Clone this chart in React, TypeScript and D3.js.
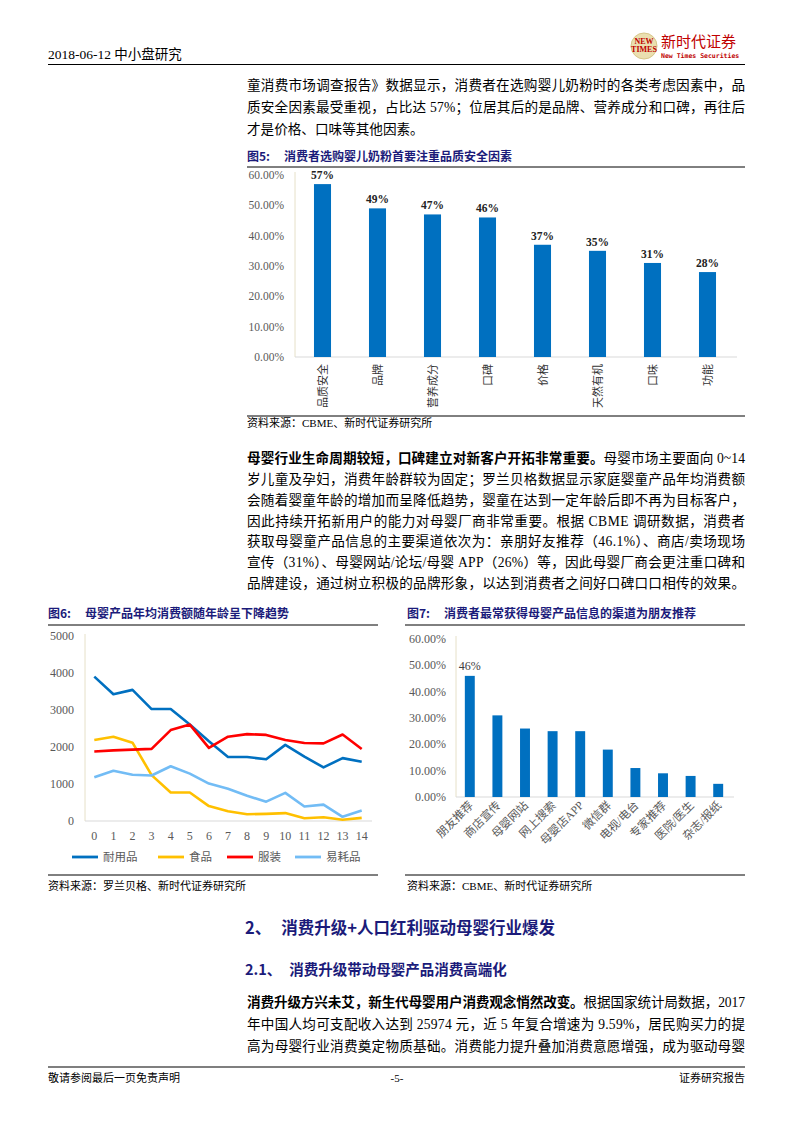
import React from "react";
import * as d3 from "d3";

// fig 5
const factorCats = ["品质安全", "品牌", "营养成分", "口碑", "价格", "天然有机", "口味", "功能"];
const factorVals = [0.57, 0.49, 0.47, 0.46, 0.37, 0.35, 0.31, 0.28];
const pctTicks = [0, 0.1, 0.2, 0.3, 0.4, 0.5, 0.6];

// fig 6
const ages = [0, 1, 2, 3, 4, 5, 6, 7, 8, 9, 10, 11, 12, 13, 14];
const durable = [3900, 3420, 3540, 3020, 3020, 2600, 2150, 1720, 1720, 1660, 2050, 1730, 1440, 1690, 1590];
const food = [2180, 2270, 2110, 1230, 760, 760, 390, 250, 170, 180, 200, 60, 90, 20, 70];
const clothes = [1870, 1900, 1920, 1940, 2450, 2600, 1970, 2270, 2340, 2320, 2180, 2100, 2090, 2330, 1940];
const consumable = [1170, 1350, 1240, 1220, 1470, 1270, 1000, 860, 670, 510, 750, 380, 430, 100, 270];
const seriesNames = ["耐用品", "食品", "服装", "易耗品"];
const seriesColors = ["#0070C0", "#FFC000", "#FF0000", "#72BCF5"];
const spendTicks = [0, 1000, 2000, 3000, 4000, 5000];

// fig 7
const channelCats = ["朋友推荐", "商店宣传", "母婴网站", "网上搜索", "母婴店APP", "微信群", "电视/电台", "专家推荐", "医院/医生", "杂志/报纸"];
const channelVals = [0.46, 0.31, 0.26, 0.25, 0.25, 0.18, 0.11, 0.09, 0.08, 0.05];

const para1 = [
  "童消费市场调查报告》数据显示，消费者在选购婴儿奶粉时的各类考虑因素中，品",
  "质安全因素最受重视，占比达 57%；位居其后的是品牌、营养成分和口碑，再往后",
  "才是价格、口味等其他因素。",
];
const para2 = [
  "岁儿童及孕妇，消费年龄群较为固定；罗兰贝格数据显示家庭婴童产品年均消费额",
  "会随着婴童年龄的增加而呈降低趋势，婴童在达到一定年龄后即不再为目标客户，",
  "因此持续开拓新用户的能力对母婴厂商非常重要。根据 CBME 调研数据，消费者",
  "获取母婴童产品信息的主要渠道依次为：亲朋好友推荐（46.1%）、商店/卖场现场",
  "宣传（31%）、母婴网站/论坛/母婴 APP（26%）等，因此母婴厂商会更注重口碑和",
  "品牌建设，通过树立积极的品牌形象，以达到消费者之间好口碑口口相传的效果。",
];
const para3 = [
  "年中国人均可支配收入达到 25974 元，近 5 年复合增速为 9.59%，居民购买力的提",
  "高为母婴行业消费奠定物质基础。消费能力提升叠加消费意愿增强，成为驱动母婴",
];

const SERIF = "'Liberation Serif', 'Times New Roman', 'Noto Sans CJK SC', serif";
const CJK = "'Noto Sans CJK SC', sans-serif";
const NAVY = "#1B1B7A";
const GREY = "#595959";

const fmtPct = d3.format(".2%");

function Para({ lines, x, y, step, width, last = false }: any) {
  return (
    <g fontFamily={SERIF} fontSize={13.6} fill="#000">
      {lines.map((l: string, i: number) => {
        const full = !(last && i === lines.length - 1);
        return (
          <text key={i} x={x} y={y + i * step} textLength={full ? width : undefined} lengthAdjust="spacing">
            {l}
          </text>
        );
      })}
    </g>
  );
}

function Fig5() {
  const x = d3.scaleBand().domain(factorCats).range([295, 735]).paddingInner(0.69).paddingOuter(0.345);
  const y = d3.scaleLinear().domain([0, 0.6]).range([357, 175]);
  return (
    <g>
      <line x1={295} x2={295} y1={172} y2={357} stroke="#E6E0C8" />
      <line x1={295} x2={737} y1={357} y2={357} stroke="#D9D9D9" />
      {pctTicks.map((t) => (
        <text key={t} x={284} y={y(t) + 4} textAnchor="end" fontFamily={SERIF} fontSize={11.5} fill={GREY}>
          {fmtPct(t)}
        </text>
      ))}
      {factorCats.map((c, i) => (
        <g key={c}>
          <rect x={x(c)} y={y(factorVals[i])} width={x.bandwidth()} height={y(0) - y(factorVals[i])} fill="#0070C0" />
          <text x={x(c)! + x.bandwidth() / 2} y={y(factorVals[i]) - 5} textAnchor="middle" fontFamily={SERIF} fontWeight="bold" fontSize={11.5} fill="#222">
            {Math.round(factorVals[i] * 100) + "%"}
          </text>
          <text
            transform={`translate(${x(c)! + x.bandwidth() / 2 + 4},364) rotate(-90)`}
            textAnchor="end"
            fontFamily={CJK}
            fontSize={11}
            fill="#333"
          >
            {c}
          </text>
        </g>
      ))}
    </g>
  );
}

function Fig6() {
  const x = d3.scaleLinear().domain([0, 14]).range([94.3, 361.7]);
  const y = d3.scaleLinear().domain([0, 5000]).range([820.5, 636]);
  const line = d3
    .line<number>()
    .x((_, i) => x(ages[i]))
    .y((d) => y(d));
  const all = [durable, food, clothes, consumable];
  const legendX = [72, 158, 227, 295];
  return (
    <g>
      <line x1={85} x2={85} y1={634} y2={821} stroke="#E6E0C8" />
      <line x1={85} x2={372} y1={821} y2={821} stroke="#D9D9D9" />
      {spendTicks.map((t) => (
        <text key={t} x={74} y={y(t) + 4} textAnchor="end" fontFamily={SERIF} fontSize={12} fill={GREY}>
          {t}
        </text>
      ))}
      {ages.map((a) => (
        <text key={a} x={x(a)} y={840} textAnchor="middle" fontFamily={SERIF} fontSize={12} fill={GREY}>
          {a}
        </text>
      ))}
      {all.map((s, i) => (
        <path key={i} d={line(s) || ""} fill="none" stroke={seriesColors[i]} strokeWidth={2.6} strokeLinejoin="round" />
      ))}
      {seriesNames.map((n, i) => (
        <g key={n}>
          <line x1={legendX[i]} x2={legendX[i] + 26} y1={857} y2={857} stroke={seriesColors[i]} strokeWidth={2.8} />
          <text x={legendX[i] + 31} y={861} fontFamily={CJK} fontSize={11.5} fill={GREY}>
            {n}
          </text>
        </g>
      ))}
    </g>
  );
}

function Fig7() {
  const x = d3.scaleBand().domain(channelCats).range([456, 732]).paddingInner(0.64).paddingOuter(0.32);
  const y = d3.scaleLinear().domain([0, 0.6]).range([797, 639]);
  return (
    <g>
      <line x1={456} x2={456} y1={636} y2={797} stroke="#E6E0C8" />
      <line x1={456} x2={734} y1={797} y2={797} stroke="#D9D9D9" />
      {pctTicks.map((t) => (
        <text key={t} x={446} y={y(t) + 4} textAnchor="end" fontFamily={SERIF} fontSize={12} fill={GREY}>
          {fmtPct(t)}
        </text>
      ))}
      {channelCats.map((c, i) => (
        <g key={c}>
          <rect x={x(c)} y={y(channelVals[i])} width={x.bandwidth()} height={y(0) - y(channelVals[i])} fill="#0070C0" />
          <text
            transform={`translate(${x(c)! + x.bandwidth() / 2 + 4},806) rotate(-45)`}
            textAnchor="end"
            fontFamily={SERIF}
            fontSize={11.5}
            fill={GREY}
          >
            {c}
          </text>
        </g>
      ))}
      <text x={x(channelCats[0])! + x.bandwidth() / 2} y={y(channelVals[0]) - 6} textAnchor="middle" fontFamily={SERIF} fontSize={12} fill="#404040">
        {Math.round(channelVals[0] * 100) + "%"}
      </text>
    </g>
  );
}

export default function App() {
  return (
    <svg width={793} height={1122} style={{ position: "absolute", left: 0, top: 0, background: "#fff" }}>
      {/* header */}
      <text x={48} y={59} fontFamily={SERIF} fontSize={13.5} fill="#000">2018-06-12 中小盘研究</text>
      <line x1={48} x2={745} y1={64.5} y2={64.5} stroke="#000" strokeWidth={1.2} />
      <circle cx={644} cy={46} r={13} fill="#EADFB0" stroke="#D7C68A" />
      <text x={644} y={44} textAnchor="middle" fontFamily={SERIF} fontSize={8} fill="#C00000" fontWeight="bold">NEW</text>
      <text x={644} y={52} textAnchor="middle" fontFamily={SERIF} fontSize={8} fill="#C00000" fontWeight="bold">TIMES</text>
      <text x={661} y={47} fontFamily={CJK} fontSize={15} fill="#C00000">新时代证券</text>
      <text x={661} y={58} fontFamily="'DejaVu Sans Mono', monospace" fontSize={6.5} fill="#C00000" fontWeight="bold">New Times Securities</text>

      <Para lines={para1} x={247} y={90} step={22} width={498} last />

      {/* fig 5 */}
      <text x={247} y={161} fontFamily={CJK} fontWeight="bold" fontSize={12} fill={NAVY}>
        图5:<tspan dx={14}>消费者选购婴儿奶粉首要注重品质安全因素</tspan>
      </text>
      <line x1={247} x2={745} y1={167} y2={167} stroke="#000" />
      <Fig5 />
      <line x1={247} x2={745} y1={416} y2={416} stroke="#000" />
      <text x={247} y={427} fontFamily={SERIF} fontSize={11} fill="#000">资料来源：CBME、新时代证券研究所</text>

      {/* paragraph 2 */}
      <text x={247} y={463} fontFamily={SERIF} fontSize={13.6} textLength={498} lengthAdjust="spacing">
        <tspan fontWeight="bold">母婴行业生命周期较短，口碑建立对新客户开拓非常重要。</tspan>
        <tspan>母婴市场主要面向 0~14</tspan>
      </text>
      <Para lines={para2} x={247} y={484} step={20.8} width={498} />

      {/* fig 6 */}
      <text x={48} y={618} fontFamily={CJK} fontWeight="bold" fontSize={12} fill={NAVY}>
        图6:<tspan dx={14}>母婴产品年均消费额随年龄呈下降趋势</tspan>
      </text>
      <line x1={48} x2={378} y1={625} y2={625} stroke="#000" />
      <Fig6 />
      <line x1={48} x2={378} y1={875} y2={875} stroke="#000" />
      <text x={48} y={890} fontFamily={SERIF} fontSize={11} fill="#000">资料来源：罗兰贝格、新时代证券研究所</text>

      {/* fig 7 */}
      <text x={407} y={618} fontFamily={CJK} fontWeight="bold" fontSize={12} fill={NAVY}>
        图7:<tspan dx={14}>消费者最常获得母婴产品信息的渠道为朋友推荐</tspan>
      </text>
      <line x1={405} x2={745} y1={625} y2={625} stroke="#000" />
      <Fig7 />
      <line x1={405} x2={745} y1={875} y2={875} stroke="#000" />
      <text x={407} y={890} fontFamily={SERIF} fontSize={11} fill="#000">资料来源：CBME、新时代证券研究所</text>

      {/* section headings */}
      <text x={245} y={934} fontFamily={CJK} fontWeight="bold" fontSize={16.5} fill={NAVY}>
        2、<tspan dx={10}>消费升级+人口红利驱动母婴行业爆发</tspan>
      </text>
      <text x={245} y={975} fontFamily={CJK} fontWeight="bold" fontSize={14.5} fill={NAVY}>
        2.1、<tspan dx={8}>消费升级带动母婴产品消费高端化</tspan>
      </text>

      <text x={247} y={1007} fontFamily={SERIF} fontSize={13.6} textLength={498} lengthAdjust="spacing">
        <tspan fontWeight="bold">消费升级方兴未艾，新生代母婴用户消费观念悄然改变。</tspan>
        <tspan>根据国家统计局数据，2017</tspan>
      </text>
      <Para lines={para3} x={247} y={1029} step={22} width={498} />

      {/* footer */}
      <line x1={48} x2={745} y1={1067} y2={1067} stroke="#000" strokeWidth={1.2} />
      <text x={48} y={1082} fontFamily={SERIF} fontSize={11} fill="#000">敬请参阅最后一页免责声明</text>
      <text x={397} y={1082} textAnchor="middle" fontFamily={SERIF} fontSize={11} fill="#000">-5-</text>
      <text x={745} y={1082} textAnchor="end" fontFamily={SERIF} fontSize={11} fill="#000">证券研究报告</text>
    </svg>
  );
}
